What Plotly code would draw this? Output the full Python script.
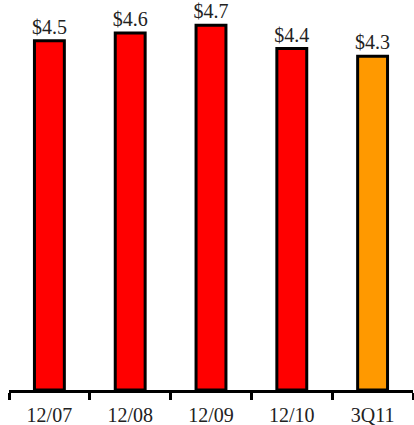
import plotly.graph_objects as go

categories = ["12/07", "12/08", "12/09", "12/10", "3Q11"]
values = [4.5, 4.6, 4.7, 4.4, 4.3]
labels = ["$4.5", "$4.6", "$4.7", "$4.4", "$4.3"]
colors = ["#FF0000", "#FF0000", "#FF0000", "#FF0000", "#FF9900"]

fig = go.Figure(go.Bar(
    x=categories, y=values, text=labels,
    textposition="outside", cliponaxis=False, constraintext="none",
    textfont=dict(family="Liberation Serif", size=20, color="#222222"),
    marker=dict(color=colors, line=dict(color="black", width=3)),
    width=0.37,
))
fig.update_layout(
    width=414, height=425,
    margin=dict(l=9, r=1, t=2, b=35),
    paper_bgcolor="white", plot_bgcolor="white",
    showlegend=False,
    font=dict(family="Liberation Serif", size=20, color="#222222"),
)
fig.update_xaxes(
    range=[-0.5, 4.5], showline=True, linecolor="black", linewidth=2.5,
    ticks="outside", tickson="boundaries", ticklen=7, tickwidth=2.5, tickcolor="black",
    ticklabelstandoff=5, automargin=False,
    showgrid=False, tickfont=dict(family="Liberation Serif", size=20, color="#222222"),
)
fig.update_yaxes(range=[0, 5], visible=False, showgrid=False, automargin=False)
fig.write_html("out.html")
